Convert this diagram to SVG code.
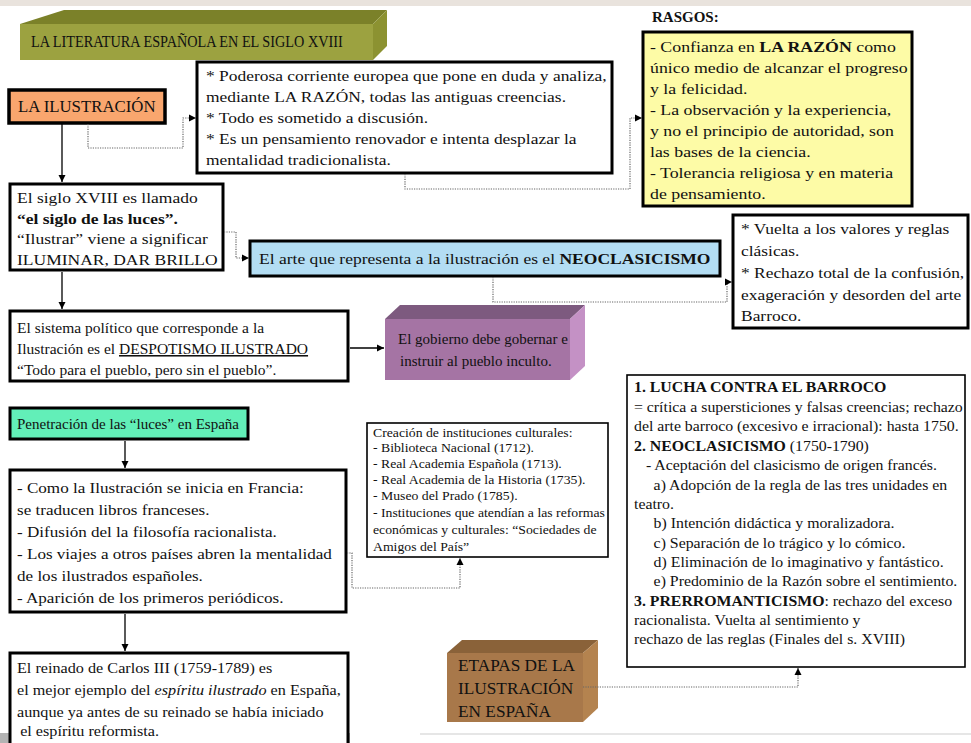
<svg xmlns="http://www.w3.org/2000/svg" width="971" height="743" viewBox="0 0 971 743" font-family="'Liberation Serif', 'Times New Roman', serif">
<defs>
<style>
text{font-family:'Liberation Serif','Times New Roman',serif;fill:#111;}
.t15{font-size:15px;}
.t155{font-size:15.5px;}
.t16{font-size:16px;}
.t165{font-size:16.5px;}
.t145{font-size:14.5px;}
.t125{font-size:12.5px;}
.b{font-weight:bold;}
.box{fill:#fff;stroke:#000;stroke-width:3;}
.thin{fill:#fff;stroke:#000;stroke-width:1.6;}
.solid{fill:none;stroke:#000;stroke-width:1.3;}
.dot{fill:none;stroke:#666;stroke-width:1.2;stroke-dasharray:1.2 1.2;}
</style>
<marker id="ah" markerWidth="8" markerHeight="8" refX="7" refY="4" orient="auto" markerUnits="userSpaceOnUse">
<path d="M0,0.5 L7,4 L0,7.5 z" fill="#000"/>
</marker>
</defs>
<rect width="971" height="743" fill="#fff"/>
<rect width="971" height="6" fill="#e9e3dd"/>
<rect x="0" y="733" width="350" height="10" fill="#b3b3b3"/>
<line x1="420" y1="734" x2="971" y2="734" stroke="#e6e6e6" stroke-width="2"/>

<g id="title">
<polygon points="20,24 64,10 387,10 373,24" fill="#7b8129"/>
<polygon points="373,24 387,10 387,46 373,60" fill="#8c9231"/>
<rect x="20" y="24" width="353" height="36" fill="#9ca240"/>
<text x="31" y="47" class="t165" transform="matrix(0.865,0,0,1,4.19,0)">LA LITERATURA ESPAÑOLA EN EL SIGLO XVIII</text>
</g>

<g id="ilustracion">
<rect x="9" y="90" width="156" height="33" fill="#f9a66e" stroke="#000" stroke-width="3.5"/>
<text x="18" y="112" class="t16" transform="matrix(1.05,0,0,1,-0.9,0)">LA ILUSTRACIÓN</text>
</g>

<g id="definicion">
<rect x="197" y="62" width="415" height="111" class="box" stroke-width="2.2"/>
<text class="t155" transform="matrix(1.125,0,0,1,-25.75,0)"><tspan x="206" y="81">* Poderosa corriente europea que pone en duda y analiza,</tspan><tspan x="206" y="102">mediante LA RAZÓN, todas las antiguas creencias.</tspan><tspan x="206" y="123">* Todo es sometido a discusión.</tspan><tspan x="206" y="144">* Es un pensamiento renovador e intenta desplazar la</tspan><tspan x="206" y="165">mentalidad tradicionalista.</tspan></text>
</g>

<g id="rasgos">
<text x="652" y="22" class="t15 b">RASGOS:</text>
<rect x="643" y="32" width="269" height="174" fill="#fdfba6" stroke="#000" stroke-width="3"/>
<text class="t155" transform="matrix(1.15,0,0,1,-97.5,0)"><tspan x="650" y="52">- Confianza en <tspan class="b">LA RAZÓN</tspan> como</tspan><tspan x="650" y="73">único medio de alcanzar el progreso</tspan><tspan x="650" y="94">y la felicidad.</tspan><tspan x="650" y="115">- La observación y la experiencia,</tspan><tspan x="650" y="136">y no el principio de autoridad, son</tspan><tspan x="650" y="157">las bases de la ciencia.</tspan><tspan x="650" y="178">- Tolerancia religiosa y en materia</tspan><tspan x="650" y="199">de pensamiento.</tspan></text>
</g>

<g id="siglo">
<rect x="10" y="184" width="213" height="86" class="box"/>
<text class="t155" transform="matrix(1.13,0,0,1,-2.21,0)"><tspan x="17" y="203">El siglo XVIII es llamado</tspan><tspan x="17" y="224" class="b">“el siglo de las luces”.</tspan><tspan x="17" y="244">“Ilustrar” viene a significar</tspan><tspan x="17" y="265">ILUMINAR, DAR BRILLO</tspan></text>
</g>

<g id="neoclasicismo">
<rect x="250" y="241" width="470" height="35" fill="#b3ddf3" stroke="#000" stroke-width="3"/>
<text x="259" y="264" class="t155" transform="matrix(1.132,0,0,1,-34.2,0)">El arte que representa a la ilustración es el <tspan class="b">NEOCLASICISMO</tspan></text>
</g>

<g id="vuelta">
<rect x="733" y="215" width="235" height="113" class="box" stroke-width="2"/>
<text class="t155" transform="matrix(1.123,0,0,1,-91.1,0)"><tspan x="741" y="234">* Vuelta a los valores y reglas</tspan><tspan x="741" y="256">clásicas.</tspan><tspan x="741" y="278">* Rechazo total de la confusión,</tspan><tspan x="741" y="300">exageración y desorden del arte</tspan><tspan x="741" y="321">Barroco.</tspan></text>
</g>

<g id="despotismo">
<rect x="10" y="311" width="338" height="70" class="box"/>
<text class="t155"><tspan x="17" y="333">El sistema político que corresponde a la</tspan><tspan x="17" y="354">Ilustración es el <tspan text-decoration="underline">DESPOTISMO ILUSTRADO</tspan></tspan><tspan x="17" y="375">“Todo para el pueblo, pero sin el pueblo”.</tspan></text>
</g>

<g id="gobierno">
<polygon points="385,319 400,305 585,305 570,319" fill="#7d5a7f"/>
<polygon points="570,319 585,305 585,366 570,380" fill="#c491c5"/>
<rect x="385" y="319" width="185" height="61" fill="#a574a4"/>
<text class="t15"><tspan x="398" y="344">El gobierno debe gobernar e</tspan><tspan x="400" y="366">instruir al pueblo inculto.</tspan></text>
</g>

<g id="penetracion">
<rect x="10" y="408" width="238" height="31" fill="#62efb8" stroke="#000" stroke-width="3"/>
<text x="17" y="429" class="t15">Penetración de las “luces” en España</text>
</g>

<g id="francia">
<rect x="10" y="470" width="336" height="142" class="box"/>
<text class="t155" transform="matrix(1.103,0,0,1,-1.75,0)"><tspan x="17" y="493">- Como la Ilustración se inicia en Francia:</tspan><tspan x="17" y="515">se traducen libros franceses.</tspan><tspan x="17" y="537">- Difusión del la filosofía racionalista.</tspan><tspan x="17" y="559">- Los viajes a otros países abren la mentalidad</tspan><tspan x="17" y="581">de los ilustrados españoles.</tspan><tspan x="17" y="603">- Aparición de los primeros periódicos.</tspan></text>
</g>

<g id="instituciones">
<rect x="367" y="423" width="241" height="134" class="thin"/>
<text class="t125" transform="matrix(1.1,0,0,1,-37.3,0)"><tspan x="373" y="437">Creación de instituciones culturales:</tspan><tspan x="373" y="452">- Biblioteca Nacional (1712).</tspan><tspan x="373" y="468">- Real Academia Española (1713).</tspan><tspan x="373" y="484">- Real Academia de la Historia (1735).</tspan><tspan x="373" y="500">- Museo del Prado (1785).</tspan><tspan x="373" y="517">- Instituciones que atendían a las reformas</tspan><tspan x="373" y="534">económicas y culturales: “Sociedades de</tspan><tspan x="373" y="551">Amigos del País”</tspan></text>
</g>

<g id="carlos">
<rect x="10" y="653" width="338" height="100" class="box"/>
<text class="t155" transform="matrix(1.045,0,0,1,-0.77,0)"><tspan x="17" y="673">El reinado de Carlos III (1759-1789) es</tspan><tspan x="17" y="695">el mejor ejemplo del <tspan font-style="italic">espíritu ilustrado</tspan> en España,</tspan><tspan x="17" y="717">aunque ya antes de su reinado se había iniciado</tspan><tspan x="20" y="736">el espíritu reformista.</tspan></text>
</g>

<g id="etapas">
<polygon points="447,653 462,640 598,640 583,653" fill="#8a6239"/>
<polygon points="583,653 598,640 598,708 583,722" fill="#b4834f"/>
<rect x="447" y="653" width="136" height="69" fill="#a8784a"/>
<text class="t16" transform="matrix(1.08,0,0,1,-36.64,0)"><tspan x="458" y="671">ETAPAS DE LA</tspan><tspan x="458" y="694">ILUSTRACIÓN</tspan><tspan x="458" y="717">EN ESPAÑA</tspan></text>
</g>

<g id="fases">
<rect x="627" y="375" width="338" height="292" class="thin"/>
<text class="t145" transform="matrix(1.091,0,0,1,-57.7,0)"><tspan x="634" y="392" class="b">1. LUCHA CONTRA EL BARROCO</tspan><tspan x="634" y="412">= crítica a supersticiones y falsas creencias; rechazo</tspan><tspan x="634" y="431">del arte barroco (excesivo e irracional): hasta 1750.</tspan><tspan x="634" y="451"><tspan class="b">2. NEOCLASICISMO</tspan> (1750-1790)</tspan><tspan x="645" y="470">- Aceptación del clasicismo de origen francés.</tspan><tspan x="652" y="490">a) Adopción de la regla de las tres unidades en</tspan><tspan x="634" y="509">teatro.</tspan><tspan x="652" y="528">b) Intención didáctica y moralizadora.</tspan><tspan x="652" y="548">c) Separación de lo trágico y lo cómico.</tspan><tspan x="652" y="567">d) Eliminación de lo imaginativo y fantástico.</tspan><tspan x="652" y="586">e) Predominio de la Razón sobre el sentimiento.</tspan><tspan x="634" y="606"><tspan class="b">3. PRERROMANTICISMO</tspan>: rechazo del exceso</tspan><tspan x="634" y="625">racionalista. Vuelta al sentimiento y</tspan><tspan x="634" y="644">rechazo de las reglas (Finales del s. XVIII)</tspan></text>
</g>

<g id="connectors">
<path class="solid" d="M62,124 V182" marker-end="url(#ah)"/>
<path class="solid" d="M62,272 V309" marker-end="url(#ah)"/>
<path class="solid" d="M350,348 H384" marker-end="url(#ah)"/>
<path class="solid" d="M125,441 V468" marker-end="url(#ah)"/>
<path class="solid" d="M125,614 V651" marker-end="url(#ah)"/>
<path class="dot" d="M88,124 V148 H183 V118 H196" marker-end="url(#ah)"/>
<path class="dot" d="M405,174 V189 H630 V118 H642" marker-end="url(#ah)"/>
<path class="dot" d="M224,232 H236 V258 H249" marker-end="url(#ah)"/>
<path class="dot" d="M493,277 V302 H727 V282 H732" marker-end="url(#ah)"/>
<path class="dot" d="M347,553 H352 V588 H460 V558" marker-end="url(#ah)"/>
<path class="dot" d="M583,687 H798 V668" marker-end="url(#ah)"/>
</g>
</svg>
